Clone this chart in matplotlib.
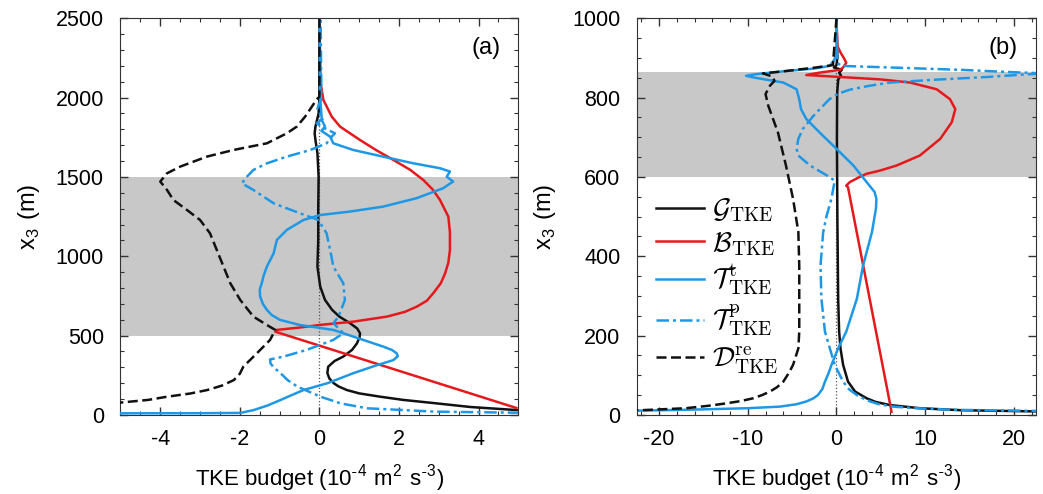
import numpy as np
import matplotlib
matplotlib.use('Agg')
import matplotlib.pyplot as plt
from matplotlib.ticker import MultipleLocator

plt.rcParams['font.family'] = ['Liberation Sans', 'DejaVu Sans']
plt.rcParams['mathtext.fontset'] = 'cm'
plt.rcParams['axes.unicode_minus'] = False

black = '#111111'
red = '#e5191c'
blue = '#1e98e6'

# ---------------- panel (a) ----------------
z_G_a = [8, 20, 31, 50, 75, 95, 115, 136, 157, 180, 200, 230, 264, 304, 340, 368, 410, 450, 490, 515, 545, 578, 620, 662, 725, 809, 935, 1100, 1300, 1500, 1650, 1733, 1775, 1817, 1900, 2000, 2500]
G_a = [10, 7, 4.95, 3.8, 2.87, 2.1, 1.53, 1.0, 0.69, 0.48, 0.36, 0.25, 0.2, 0.22, 0.38, 0.6, 0.82, 0.94, 1.01, 1.02, 0.95, 0.77, 0.5, 0.32, 0.14, 0.02, -0.05, -0.03, -0.03, -0.02, -0.05, -0.1, -0.12, -0.1, -0.02, 0.0, 0.0]

z_B_a = [44, 525, 536, 551, 567, 588, 620, 650, 683, 720, 767, 830, 893, 960, 1040, 1150, 1250, 1355, 1420, 1481, 1545, 1607, 1670, 1733, 1817, 1880, 1985, 2090, 2500]
B_a = [4.95, -1.11, -1.07, -0.5, 0.0, 0.85, 1.7, 2.15, 2.45, 2.7, 2.86, 3.05, 3.16, 3.24, 3.28, 3.28, 3.24, 3.03, 2.85, 2.61, 2.28, 1.86, 1.42, 1.02, 0.52, 0.31, 0.1, 0.03, 0.0]

z_Tt_a = [9, 11, 13, 31, 60, 94, 125, 157, 200, 264, 310, 346, 370, 389, 410, 431, 494, 536, 567, 599, 630, 662, 700, 746, 790, 830, 880, 935, 1019, 1103, 1166, 1229, 1260, 1282, 1313, 1366, 1429, 1471, 1502, 1534, 1555, 1586, 1628, 1670, 1712, 1754, 1790, 1817, 1859, 2000, 2500]
Tt_a = [-9, -3.0, -1.98, -1.65, -1.3, -0.98, -0.7, -0.4, 0.2, 0.86, 1.4, 1.86, 1.97, 1.94, 1.82, 1.6, 0.85, 0.35, -0.49, -0.99, -1.2, -1.32, -1.42, -1.49, -1.5, -1.45, -1.4, -1.32, -1.15, -1.07, -0.82, -0.4, 0.02, 0.77, 1.6, 2.44, 3.11, 3.36, 3.2, 3.28, 3.03, 2.36, 1.6, 0.85, 0.35, 0.27, 0.05, 0.14, 0.06, 0.02, 0.0]

z_Tp_a = [8, 14, 21, 42, 73, 115, 178, 220, 264, 300, 325, 350, 368, 410, 473, 515, 536, 578, 620, 725, 830, 935, 1040, 1145, 1229, 1271, 1334, 1418, 1460, 1502, 1544, 1586, 1628, 1670, 1712, 1754, 1775, 1806, 1838, 1870, 1930, 2000, 2500]
Tp_a = [8, 5, 2.9, 1.2, 0.53, 0.03, -0.55, -0.8, -0.98, -1.15, -1.23, -1.24, -0.9, -0.32, 0.35, 0.6, 0.52, 0.35, 0.48, 0.64, 0.6, 0.35, 0.27, 0.18, -0.03, -0.49, -1.15, -1.66, -1.95, -1.82, -1.66, -1.32, -0.82, -0.23, 0.18, 0.31, 0.39, 0.14, -0.07, 0.1, -0.05, 0.05, 0.03]

z_D_a = [60, 78, 95, 115, 135, 157, 185, 220, 260, 305, 389, 473, 536, 567, 620, 725, 830, 935, 1040, 1145, 1229, 1292, 1355, 1418, 1471, 1523, 1565, 1628, 1670, 1712, 1775, 1817, 1880, 1943, 1985, 2006, 2500]
D_a = [-7, -5.0, -4.3, -3.83, -3.25, -2.82, -2.45, -2.15, -2.0, -1.91, -1.57, -1.24, -1.11, -1.32, -1.66, -1.99, -2.24, -2.41, -2.58, -2.75, -3.0, -3.33, -3.67, -3.83, -4.0, -3.83, -3.5, -2.83, -2.16, -1.32, -0.82, -0.57, -0.36, -0.19, -0.08, 0.0, 0.0]

# ---------------- panel (b) ----------------
z_G_b = [8, 12, 17, 25, 33, 42, 59, 84, 126, 168, 210, 293, 500, 700, 813, 846, 856, 863, 870, 876, 882, 900, 1000]
G_b = [25, 14, 9.4, 6.0, 4.4, 3.4, 2.1, 1.3, 0.75, 0.45, 0.3, 0.19, 0.1, 0.05, 0.08, 0.2, 0.5, 0.3, 0.6, -0.3, 0.0, 0.1, 0.0]

z_B_b = [8, 21, 574, 578, 587, 600, 608, 616, 629, 654, 696, 738, 771, 796, 821, 838, 846, 857, 863, 870, 876, 888, 897, 914, 930, 1000]
B_b = [6.2, 6.1, 1.3, 1.1, 1.5, 2.6, 3.4, 4.9, 6.8, 9.4, 11.7, 13.0, 13.4, 12.8, 11.3, 8.3, 4.9, -3.4, -1.9, 0.4, 0.75, 1.1, 0.9, 0.45, 0.1, 0.0]

z_Tt_b = [8, 13, 17, 21, 27, 34, 42, 50, 65, 84, 105, 126, 168, 210, 293, 377, 461, 520, 545, 562, 587, 629, 671, 712, 746, 771, 796, 821, 838, 851, 855, 859, 867, 873, 880, 897, 930, 1000]
Tt_b = [-30, -17, -10, -6.4, -4.5, -3.4, -2.6, -2.1, -1.6, -1.3, -0.9, -0.57, 0.19, 1.1, 2.3, 3.0, 4.0, 4.45, 4.5, 4.3, 3.4, 1.9, 0.0, -1.9, -3.4, -4.0, -4.2, -4.5, -6.0, -9.4, -10.2, -9.1, -5.7, -2.6, -0.75, -0.2, 0.0, 0.0]

z_Tp_b = [8, 13, 17, 21, 27, 34, 42, 50, 65, 84, 126, 168, 210, 293, 377, 461, 503, 545, 591, 604, 629, 654, 671, 696, 721, 754, 796, 810, 820, 829, 838, 845, 852, 858, 861, 864, 870, 876, 880, 888, 1000]
Tp_b = [30, 13, 9, 6.4, 4.8, 3.8, 3.0, 2.3, 1.4, 0.75, -0.19, -0.75, -1.3, -1.7, -1.8, -1.5, -1.1, -0.57, -0.2, -1.1, -3.0, -4.3, -4.5, -4.3, -3.8, -2.6, -0.8, 0.2, 1.5, 3.5, 6.0, 11.0, 17.0, 21.0, 23.5, 20.0, 14.0, 6.0, 0.5, 0.1, 0.0]

z_D_b = [8, 12, 17, 23, 29, 35, 42, 50, 59, 70, 84, 105, 126, 168, 210, 377, 461, 545, 629, 712, 780, 809, 830, 842, 853, 861, 867, 876, 882, 1000]
D_b = [-30, -22, -17, -14.5, -12.5, -10.8, -9.4, -8.4, -7.5, -6.7, -6.0, -5.4, -4.9, -4.3, -4.2, -4.2, -4.3, -4.9, -5.7, -6.6, -7.7, -8.0, -7.5, -7.0, -7.2, -8.3, -5.7, -2.3, -0.4, 0.0]

labels = [r'$\mathcal{G}_{\mathrm{TKE}}$', r'$\mathcal{B}_{\mathrm{TKE}}$',
          r'$\mathcal{T}^{\mathrm{t}}_{\mathrm{TKE}}$', r'$\mathcal{T}^{\mathrm{p}}_{\mathrm{TKE}}$',
          r'$\mathcal{D}^{\mathrm{re}}_{\mathrm{TKE}}$']

fig = plt.figure(figsize=(10.43, 4.94), dpi=100)
ax1 = fig.add_axes([0.1155, 0.160, 0.3815, 0.803])
ax2 = fig.add_axes([0.6107, 0.160, 0.3826, 0.803])


def draw(ax, data, band, xlim, ylim, xmaj, xmin, ymaj, ymin, tag):
    ax.axhspan(band[0], band[1], color='#c8c8c8', lw=0, zorder=0)
    ax.axvline(0, color='#555555', ls=':', lw=0.9, zorder=1)
    G, B, Tt, Tp, D = data
    ax.plot(G[1], G[0], color=black, lw=1.8, label=labels[0], zorder=3)
    ax.plot(B[1], B[0], color=red, lw=1.8, label=labels[1], zorder=3)
    ax.plot(Tt[1], Tt[0], color=blue, lw=1.8, label=labels[2], zorder=3)
    ax.plot(Tp[1], Tp[0], color=blue, lw=1.8, dashes=(5, 1.6, 1.2, 1.6), label=labels[3], zorder=3)
    ax.plot(D[1], D[0], color=black, lw=1.8, dashes=(4, 1.8), label=labels[4], zorder=3)
    ax.set_xlim(xlim)
    ax.set_ylim(ylim)
    ax.xaxis.set_major_locator(MultipleLocator(xmaj))
    ax.xaxis.set_minor_locator(MultipleLocator(xmin))
    ax.yaxis.set_major_locator(MultipleLocator(ymaj))
    ax.yaxis.set_minor_locator(MultipleLocator(ymin))
    ax.tick_params(which='both', direction='in', top=True, right=True, labelsize=15.5, color='#333333')
    ax.tick_params(which='major', length=6, width=1)
    ax.tick_params(which='minor', length=3, width=0.8)
    ax.tick_params(axis='x', pad=10)
    ax.tick_params(axis='y', pad=12)
    for s in ax.spines.values():
        s.set_color('#333333')
    ax.set_xlabel(r'TKE budget (10$^{\mathregular{\text{-}4}}$ m$^{\mathregular{2}}$ s$^{\mathregular{\text{-}3}}$)', fontsize=16, labelpad=10)
    ax.set_ylabel(r'x$_{\mathregular{3}}$ (m)', fontsize=17, labelpad=10)
    ax.text(0.955, 0.925, tag, transform=ax.transAxes, ha='right', va='center', fontsize=17)


draw(ax1, [(z_G_a, G_a), (z_B_a, B_a), (z_Tt_a, Tt_a), (z_Tp_a, Tp_a), (z_D_a, D_a)],
     (500, 1500), (-5, 5), (0, 2500), 2, 0.5, 500, 100, '(a)')
draw(ax2, [(z_G_b, G_b), (z_B_b, B_b), (z_Tt_b, Tt_b), (z_Tp_b, Tp_b), (z_D_b, D_b)],
     (600, 865), (-22.5, 22.5), (0, 1000), 10, 2, 200, 50, '(b)')

ax2.legend(loc='center left', bbox_to_anchor=(0.0, 0.325), frameon=False, fontsize=20,
           handlelength=1.7, handletextpad=0.3, labelspacing=0.2, borderaxespad=0.3)

plt.savefig('out.png', dpi=100)
